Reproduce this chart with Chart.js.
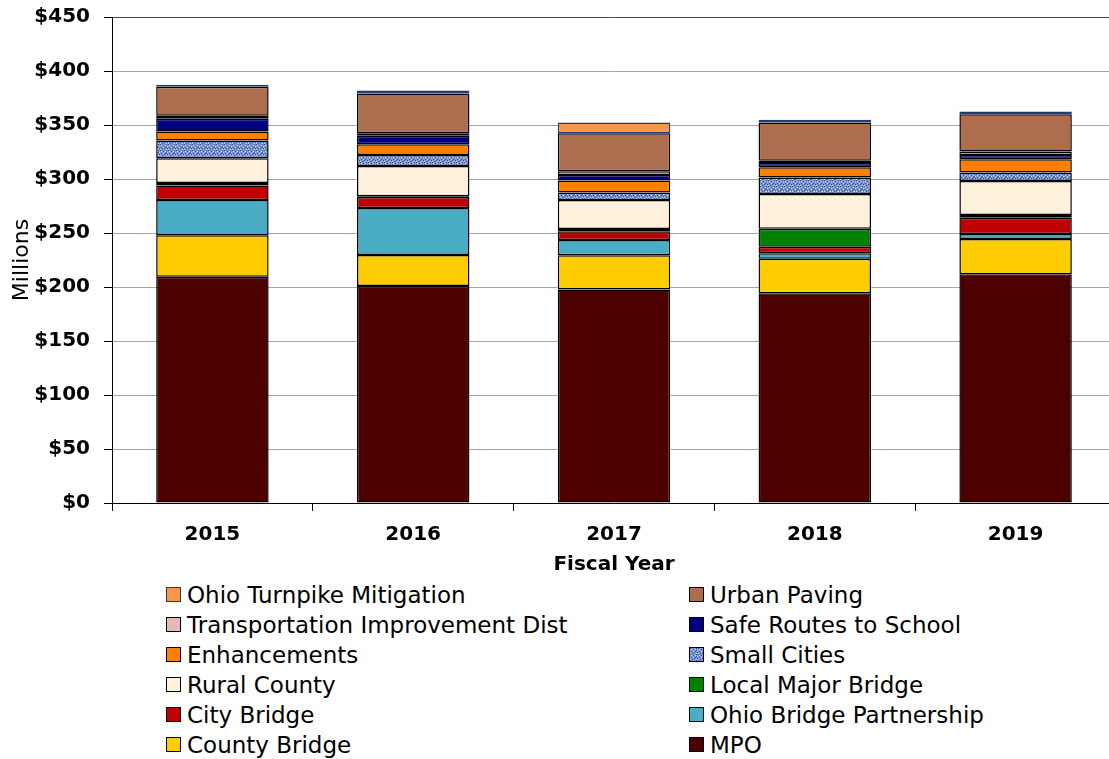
<!DOCTYPE html>
<html>
<head>
<meta charset="utf-8">
<script src="https://cdn.jsdelivr.net/npm/chart.js@4.4.1/dist/chart.umd.min.js"></script>
<style>
  html, body { margin: 0; padding: 0; background: #fff; overflow: hidden; }
  #wrap { position: relative; width: 1118px; height: 759px; }
  #chartBox { position: absolute; left: 0; top: 0; width: 1118px; height: 580px; }
  #legend { position: absolute; left: 0; top: 580px; width: 1109px; height: 179px;
            font-family: 'DejaVu Sans', sans-serif; font-size: 23px; color: #000; }
  .item { position: absolute; height: 30px; line-height: 30px; white-space: nowrap; }
  .swatch { display: inline-block; box-sizing: border-box; width: 15px; height: 15px;
            border: 1.5px solid #000; vertical-align: middle; margin-right: 6px;
            position: relative; top: -2px; background-size: 8px 6px; }
</style>
</head>
<body>
<div id="wrap">
  <div id="chartBox"><canvas id="fundingChart"></canvas></div>
  <div id="legend"></div>
</div>
<script>
// Fiscal years and funding by program (millions of dollars)
const years = ['2015', '2016', '2017', '2018', '2019'];
const mpo = [209.5, 200.9, 197.8, 194.1, 211.7];
const countyBridge = [38.4, 28.7, 31.5, 32.1, 32.8];
const ohioBridgePartnership = [32.7, 43.6, 14.2, 5.0, 4.5];
const cityBridge = [13.3, 10.2, 8.1, 6.1, 15.2];
const localMajorBridge = [2.5, 0.6, 2.1, 16.7, 2.5];
const ruralCounty = [22.9, 28.1, 26.9, 32.2, 31.5];
const smallCities = [16.3, 10.2, 6.8, 15.1, 7.8];
const enhancements = [8.3, 9.9, 11.1, 9.6, 12.3];
const safeRoutes = [11.8, 7.8, 5.3, 4.0, 4.0];
const transImprovementDist = [2.8, 2.4, 3.4, 2.1, 3.1];
const urbanPaving = [26.9, 36.7, 35.2, 35.3, 34.6];
const turnpikeMitigation = [1.8, 2.8, 9.9, 2.5, 2.5];
const yTicks = [0, 50, 100, 150, 200, 250, 300, 350, 400, 450];

// Speckled blue tile for the Small Cities series
function makeSpeckleTile() {
    const c = document.createElement('canvas');
    c.width = 8; c.height = 6;
    const g = c.getContext('2d');
    g.fillStyle = '#7d99cf';
    g.fillRect(0, 0, 8, 6);
    g.fillStyle = '#2c4b93';
    [[0,0],[3,1],[6,0],[1,3],[5,3],[2,5],[7,4],[4,4],[6,2]].forEach(([x, y]) => g.fillRect(x, y, 1, 1));
    g.fillStyle = '#cbd8ef';
    [[1,1],[5,1],[3,3],[7,2],[0,5],[6,5]].forEach(([x, y]) => g.fillRect(x, y, 1, 1));
    return c;
}

const canvas = document.getElementById('fundingChart');
const ctx = canvas.getContext('2d');
const speckleTile = makeSpeckleTile();
const speckle = ctx.createPattern(speckleTile, 'repeat');

// bottom of the stack first
const series = [
    { label: 'MPO', data: mpo, color: '#4d0000' },
    { label: 'County Bridge', data: countyBridge, color: '#ffcc00' },
    { label: 'Ohio Bridge Partnership', data: ohioBridgePartnership, color: '#4bacc6' },
    { label: 'City Bridge', data: cityBridge, color: '#c00000' },
    { label: 'Local Major Bridge', data: localMajorBridge, color: '#008000' },
    { label: 'Rural County', data: ruralCounty, color: '#fdf1db' },
    { label: 'Small Cities', data: smallCities, color: speckle, css: 'url(' + speckleTile.toDataURL() + ')' },
    { label: 'Enhancements', data: enhancements, color: '#ff8000' },
    { label: 'Safe Routes to School', data: safeRoutes, color: '#000080' },
    { label: 'Transportation Improvement Dist', data: transImprovementDist, color: '#e6b9b8' },
    { label: 'Urban Paving', data: urbanPaving, color: '#ad6e50' },
    { label: 'Ohio Turnpike Mitigation', data: turnpikeMitigation, color: '#f79646', border: '#1f3a7a' }
];

Chart.defaults.font.family = "'DejaVu Sans', sans-serif";
Chart.defaults.color = '#000';

const chart = new Chart(ctx, {
    type: 'bar',
    data: {
        labels: years,
        datasets: series.map(s => ({
            label: s.label,
            data: s.data,
            backgroundColor: s.color,
            borderColor: s.border || '#000',
            borderWidth: 1.5,
            borderSkipped: false,
            barPercentage: 0.56,
            categoryPercentage: 1
        }))
    },
    options: {
        responsive: true,
        maintainAspectRatio: false,
        animation: false,
        layout: { padding: { top: 17, right: 2, left: 0, bottom: 0 } },
        plugins: {
            legend: { display: false },
            tooltip: { enabled: false }
        },
        scales: {
            x: {
                stacked: true,
                afterFit: scale => { scale.height = 77; },
                grid: {
                    drawOnChartArea: false,
                    drawTicks: true,
                    tickLength: 8,
                    tickColor: '#000'
                },
                border: { display: true, color: '#000', width: 1 },
                ticks: {
                    padding: 12,
                    font: { size: 20, weight: 'bold' }
                },
                title: {
                    display: true,
                    text: 'Fiscal Year',
                    font: { size: 20, weight: 'bold' },
                    padding: { top: 0, bottom: 3 }
                }
            },
            y: {
                stacked: true,
                min: 0,
                max: 450,
                afterFit: scale => {
                    scale.width = 112;
                    scale.paddingTop = 0;
                    scale.paddingBottom = 0;
                },
                afterBuildTicks: scale => { scale.ticks = yTicks.map(v => ({ value: v })); },
                grid: {
                    color: c => (c.tick && c.tick.value === 450) ? '#4a4a4a' : '#a6a6a6',
                    lineWidth: 1,
                    tickLength: 8,
                    tickColor: '#000'
                },
                border: { display: true, color: '#000', width: 1 },
                ticks: {
                    padding: 14,
                    font: { size: 20, weight: 'bold' },
                    callback: v => '$' + v
                },
                title: {
                    display: true,
                    text: 'Millions',
                    font: { size: 22 },
                    padding: { top: 9, bottom: 0 }
                }
            }
        }
    }
});

// Two-column legend, top of the stack first
const legend = document.getElementById('legend');
const colX = [166, 689];
series.slice().reverse().forEach((s, i) => {
    const item = document.createElement('div');
    item.className = 'item';
    item.style.left = colX[i % 2] + 'px';
    item.style.top = (Math.floor(i / 2) * 30) + 'px';
    const sw = document.createElement('span');
    sw.className = 'swatch';
    if (s.css) {
        sw.style.backgroundImage = s.css;
    } else {
        sw.style.background = s.color;
    }
    sw.style.borderColor = s.border || '#000';
    item.appendChild(sw);
    item.appendChild(document.createTextNode(s.label));
    legend.appendChild(item);
});
</script>
</body>
</html>
